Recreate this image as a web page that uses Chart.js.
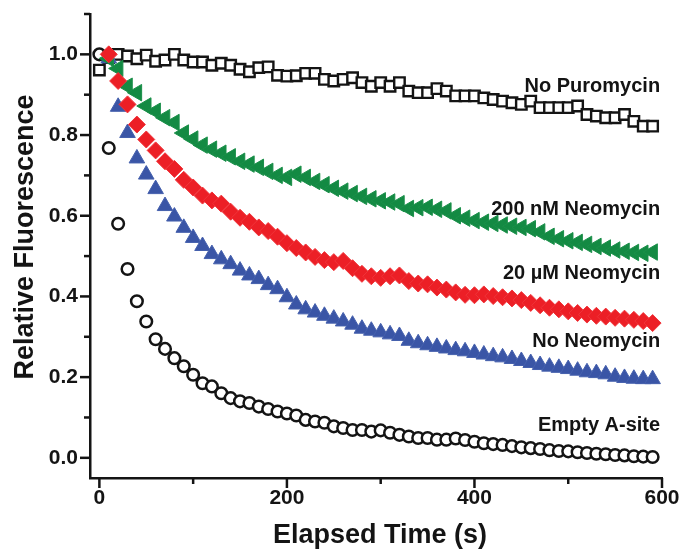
<!DOCTYPE html>
<html>
<head>
<meta charset="utf-8">
<script src="https://cdn.jsdelivr.net/npm/chart.js@4/dist/chart.umd.min.js"></script>
<style>
  html, body { margin: 0; padding: 0; background: #ffffff; }
  #wrap { width: 686px; height: 552px; position: relative; }
</style>
</head>
<body>
<div id="wrap"><canvas id="chart"></canvas></div>
<script>
// Elapsed time of each reading (s)
const timeSec = [0, 10, 20, 30, 40, 50, 60, 70, 80, 90,
  100, 110, 120, 130, 140, 150, 160, 170, 180, 190,
  200, 210, 220, 230, 240, 250, 260, 270, 280, 290,
  300, 310, 320, 330, 340, 350, 360, 370, 380, 390,
  400, 410, 420, 430, 440, 450, 460, 470, 480, 490,
  500, 510, 520, 530, 540, 550, 560, 570, 580, 590];

// Relative fluorescence traces
const noPuromycin = [0.961, 0.992, 1.000, 0.996, 0.989, 0.998, 0.983, 0.986, 1.000, 0.986,
  0.981, 0.981, 0.973, 0.978, 0.973, 0.963, 0.957, 0.967, 0.969, 0.948,
  0.946, 0.947, 0.953, 0.953, 0.938, 0.934, 0.938, 0.942, 0.930, 0.921,
  0.930, 0.921, 0.930, 0.909, 0.905, 0.905, 0.915, 0.909, 0.897, 0.897,
  0.897, 0.892, 0.888, 0.884, 0.880, 0.876, 0.884, 0.868, 0.868, 0.868,
  0.868, 0.872, 0.851, 0.847, 0.843, 0.843, 0.851, 0.834, 0.822, 0.822];

const neo200nM = [null, 0.990, 0.965, 0.921, 0.905, 0.872, 0.859, 0.843, 0.831, 0.805,
  0.790, 0.775, 0.765, 0.755, 0.746, 0.735, 0.728, 0.720, 0.710, 0.700,
  0.695, 0.703, 0.695, 0.685, 0.677, 0.668, 0.661, 0.655, 0.648, 0.642,
  0.637, 0.634, 0.630, 0.618, 0.620, 0.621, 0.616, 0.612, 0.600, 0.594,
  0.588, 0.584, 0.581, 0.577, 0.574, 0.571, 0.568, 0.560, 0.549, 0.543,
  0.538, 0.534, 0.529, 0.524, 0.520, 0.515, 0.512, 0.509, 0.507, 0.510];

const neo20uM = [null, 1.000, 0.934, 0.876, 0.826, 0.789, 0.762, 0.735, 0.716, 0.689,
  0.670, 0.650, 0.638, 0.630, 0.610, 0.595, 0.585, 0.571, 0.562, 0.548,
  0.532, 0.520, 0.509, 0.498, 0.490, 0.485, 0.488, 0.470, 0.456, 0.450,
  0.446, 0.450, 0.452, 0.438, 0.432, 0.430, 0.422, 0.417, 0.410, 0.404,
  0.403, 0.405, 0.401, 0.398, 0.395, 0.391, 0.384, 0.378, 0.372, 0.368,
  0.363, 0.359, 0.355, 0.352, 0.350, 0.347, 0.345, 0.342, 0.339, 0.334];

const noNeomycin = [null, 0.990, 0.870, 0.805, 0.742, 0.702, 0.666, 0.624, 0.598, 0.570,
  0.545, 0.525, 0.505, 0.492, 0.480, 0.464, 0.452, 0.443, 0.428, 0.418,
  0.398, 0.380, 0.368, 0.360, 0.352, 0.345, 0.338, 0.330, 0.320, 0.315,
  0.311, 0.306, 0.302, 0.290, 0.284, 0.279, 0.275, 0.271, 0.267, 0.264,
  0.260, 0.256, 0.252, 0.249, 0.245, 0.240, 0.235, 0.230, 0.226, 0.223,
  0.220, 0.216, 0.212, 0.210, 0.207, 0.201, 0.198, 0.196, 0.195, 0.195];

const emptyASite = [1.000, 0.768, 0.580, 0.468, 0.388, 0.338, 0.294, 0.270, 0.247, 0.227,
  0.206, 0.185, 0.177, 0.160, 0.148, 0.140, 0.136, 0.127, 0.121, 0.115,
  0.110, 0.105, 0.094, 0.090, 0.087, 0.078, 0.074, 0.069, 0.069, 0.065,
  0.068, 0.062, 0.057, 0.053, 0.049, 0.049, 0.045, 0.045, 0.048, 0.044,
  0.040, 0.036, 0.034, 0.032, 0.029, 0.026, 0.024, 0.022, 0.019, 0.017,
  0.016, 0.014, 0.012, 0.010, 0.009, 0.007, 0.006, 0.004, 0.003, 0.002];

// Axis ticks
const xMajorTicks = [0, 200, 400, 600];
const xMinorTicks = [100, 300, 500];
const yMajorTicks = [0.0, 0.2, 0.4, 0.6, 0.8, 1.0];
const yMinorTicks = [0.1, 0.3, 0.5, 0.7, 0.9, 1.1];

// Trace names
const traceNames = ['No Puromycin', '200 nM Neomycin', '20 \u00B5M Neomycin', 'No Neomycin', 'Empty A-site'];

const toPoints = vals => timeSec
  .map((t, i) => ({ x: t, y: vals[i] }))
  .filter(p => p.y !== null);

const INK = '#141414';
const LABEL_FONT = "'Liberation Sans', Arial, sans-serif";

// In-plot trace labels, right-aligned at the end of each trace
const traceLabelAnchors = [
  { text: traceNames[0], x: 598, y: 0.92 },
  { text: traceNames[1], x: 598, y: 0.615 },
  { text: traceNames[2], x: 598, y: 0.457 },
  { text: traceNames[3], x: 598, y: 0.288 },
  { text: traceNames[4], x: 598, y: 0.079 }
];

const decorPlugin = {
  id: 'decor',
  afterDraw(chart) {
    const { ctx, scales: { x, y } } = chart;
    const area = chart.chartArea;
    ctx.save();
    ctx.strokeStyle = INK;
    ctx.lineWidth = 2.5;
    ctx.lineCap = 'butt';
    const line = (x1, y1, x2, y2) => { ctx.beginPath(); ctx.moveTo(x1, y1); ctx.lineTo(x2, y2); ctx.stroke(); };
    xMajorTicks.forEach(v => { const px = x.getPixelForValue(v); line(px, area.bottom, px, area.bottom + 10); });
    xMinorTicks.forEach(v => { const px = x.getPixelForValue(v); line(px, area.bottom, px, area.bottom + 6); });
    yMajorTicks.forEach(v => { const py = y.getPixelForValue(v); line(area.left, py, area.left - 10, py); });
    yMinorTicks.forEach(v => { const py = y.getPixelForValue(v); line(area.left, py, area.left - 6, py); });

    // trace labels
    ctx.fillStyle = INK;
    ctx.font = 'bold 20px ' + LABEL_FONT;
    ctx.textAlign = 'right';
    ctx.textBaseline = 'middle';
    traceLabelAnchors.forEach(a => {
      ctx.fillText(a.text, x.getPixelForValue(a.x), y.getPixelForValue(a.y));
    });

    // axis titles
    ctx.font = 'bold 27px ' + LABEL_FONT;
    ctx.textAlign = 'center';
    ctx.textBaseline = 'middle';
    ctx.fillText('Elapsed Time (s)', 380, 536);
    ctx.translate(26, 237);
    ctx.rotate(-Math.PI / 2);
    ctx.fillText('Relative Fluorescence', 0, 0);
    ctx.restore();
  }
};

const markerBase = { showLine: false, clip: false, pointHoverRadius: 0 };

new Chart(document.getElementById('chart'), {
  type: 'scatter',
  data: {
    datasets: [
      Object.assign({}, markerBase, {
        label: traceNames[2], data: toPoints(neo20uM), order: 0,
        pointStyle: 'rectRot', pointRadius: 8.5, pointBorderWidth: 1,
        backgroundColor: '#ec1f26', borderColor: '#f0343a'
      }),
      Object.assign({}, markerBase, {
        label: traceNames[1], data: toPoints(neo200nM), order: 1,
        pointStyle: 'triangle', pointRotation: -90, pointRadius: 9.5, pointBorderWidth: 1,
        backgroundColor: '#138a43', borderColor: '#1a8f49'
      }),
      Object.assign({}, markerBase, {
        label: traceNames[3], data: toPoints(noNeomycin), order: 2,
        pointStyle: 'triangle', pointRadius: 9, pointBorderWidth: 1,
        backgroundColor: '#3a55a6', borderColor: '#4560ad'
      }),
      Object.assign({}, markerBase, {
        label: traceNames[0], data: toPoints(noPuromycin), order: 3,
        pointStyle: 'rect', pointRadius: 7.4, pointBorderWidth: 2.4,
        backgroundColor: '#ffffff', borderColor: INK
      }),
      Object.assign({}, markerBase, {
        label: traceNames[4], data: toPoints(emptyASite), order: 4,
        pointStyle: 'circle', pointRadius: 5.8, pointBorderWidth: 2.5,
        backgroundColor: '#ffffff', borderColor: INK
      })
    ]
  },
  options: {
    responsive: true,
    maintainAspectRatio: false,
    animation: false,
    events: [],
    layout: { padding: { top: 14, right: 24, left: 0, bottom: 0 } },
    plugins: { legend: { display: false }, tooltip: { enabled: false } },
    scales: {
      x: {
        type: 'linear',
        min: -10,
        max: 600,
        border: { display: true, color: INK, width: 2.5 },
        grid: { display: false, drawTicks: false },
        afterBuildTicks: s => { s.ticks = xMajorTicks.map(v => ({ value: v })); },
        afterFit: s => { s.height = 74; s.paddingLeft = 0; s.paddingRight = 0; },
        ticks: {
          padding: 8,
          maxRotation: 0,
          color: INK,
          font: { family: LABEL_FONT, size: 21, weight: 'bold' },
          callback: v => String(v)
        }
      },
      y: {
        type: 'linear',
        min: -0.05,
        max: 1.1,
        border: { display: true, color: INK, width: 2.5 },
        grid: { display: false, drawTicks: false },
        afterBuildTicks: s => { s.ticks = yMajorTicks.map(v => ({ value: v })); },
        afterFit: s => { s.width = 90; s.paddingTop = 0; s.paddingBottom = 0; },
        ticks: {
          padding: 12,
          color: INK,
          font: { family: LABEL_FONT, size: 21, weight: 'bold' },
          callback: v => Number(v).toFixed(1)
        }
      }
    }
  },
  plugins: [decorPlugin]
});
</script>
</body>
</html>
